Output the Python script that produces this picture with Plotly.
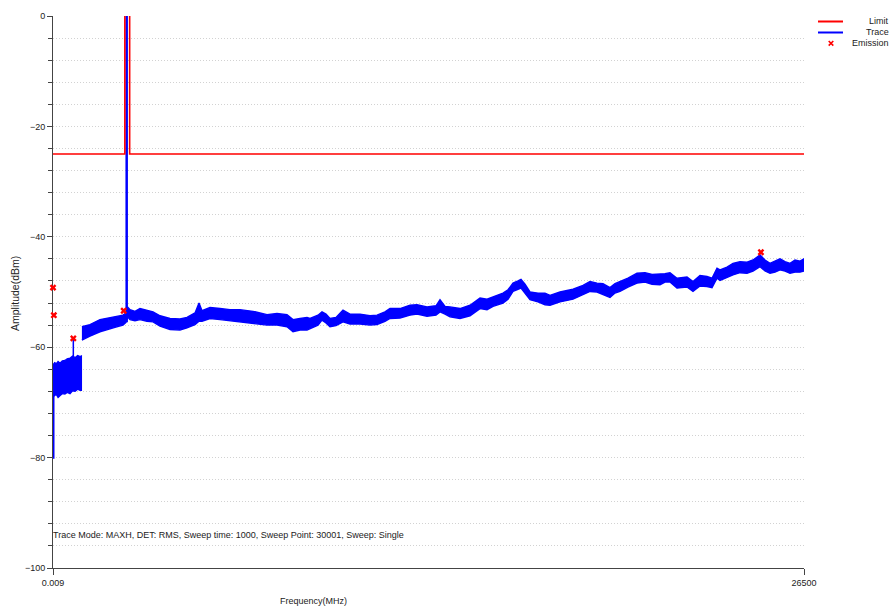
import plotly.graph_objects as go

# ---- Spectrum data (MHz / dBm) ----
# Limit mask with an exclusion window around the carrier
limit_mhz = [0.009, 2535, 2535, 2705, 2705, 26500]
limit_dbm = [-25, -25, 30, 30, -25, -25]

# Max-hold trace envelope, low band (below 1 GHz)
low_mhz = [0.009, 60, 120, 180, 247, 330, 420, 500, 600, 690, 780, 870, 953, 1000]
low_top = [-63.2, -62.8, -63.0, -62.6, -62.9, -62.5, -62.4, -62.1, -62.0, -61.6,
           -61.9, -61.5, -61.7, -61.6]
low_bottom = [-69.0, -68.7, -68.6, -69.1, -68.8, -68.4, -68.5, -68.2, -68.4, -67.9,
              -68.0, -67.6, -67.8, -67.8]

# Max-hold trace envelope, 1 GHz .. stop frequency
high_mhz = [1020, 1305, 1658, 2188, 2470, 2575, 2630, 2717, 2893, 3070,
            3317, 3529, 3776, 4129, 4481, 4728, 5011, 5152, 5258, 5540,
            5893, 6246, 6599, 7057, 7551, 7904, 8257, 8469, 8716, 8963,
            9069, 9351, 9492, 9633, 9774, 9986, 10233, 10480, 10833, 11186,
            11433, 11715, 11892, 12245, 12598, 12845, 13198, 13515, 13656, 13833,
            14009, 14362, 14715, 15068, 15315, 15527, 15879, 16056, 16232, 16408,
            16514, 16656, 16832, 17114, 17361, 17538, 17890, 18349, 18702, 18949,
            19196, 19407, 19654, 19831, 20007, 20289, 20607, 20889, 21136, 21418,
            21595, 21771, 22018, 22371, 22583, 22830, 23077, 23254, 23430, 23536,
            23783, 23995, 24242, 24489, 24701, 24948, 25124, 25301, 25477, 25654,
            25830, 26007, 26183, 26359, 26500]
high_top = [-56.3, -55.9, -55.0, -54.5, -54.2, -53.8, -52.7, -53.2, -53.5, -53.0,
            -53.3, -53.6, -54.3, -54.8, -54.9, -54.6, -53.8, -52.0, -53.4, -52.8,
            -53.0, -53.2, -53.2, -53.5, -54.1, -53.9, -54.1, -55.0, -54.8, -54.6,
            -54.8, -54.2, -53.6, -54.0, -54.8, -54.6, -53.3, -54.0, -54.0, -54.3,
            -54.2, -53.6, -53.0, -53.0, -52.4, -52.3, -52.7, -52.5, -51.4, -52.6,
            -52.7, -53.0, -52.4, -51.1, -51.3, -50.9, -50.2, -49.6, -48.4, -48.0,
            -47.7, -48.6, -50.0, -50.2, -50.2, -50.6, -50.0, -49.5, -48.8, -48.1,
            -48.4, -48.5, -49.2, -48.5, -48.1, -47.5, -46.6, -46.5, -46.8, -46.8,
            -46.7, -46.5, -47.5, -47.3, -48.1, -47.0, -47.2, -47.5, -45.7, -46.0,
            -45.5, -44.8, -44.5, -44.6, -44.2, -43.3, -44.2, -44.8, -44.4, -44.0,
            -44.5, -44.8, -44.2, -44.4, -44.0]
high_bottom = [-58.7, -58.0, -57.2, -56.4, -56.0, -55.5, -54.5, -55.0, -55.2, -55.0,
               -55.3, -55.4, -56.2, -56.8, -56.9, -56.5, -55.9, -55.3, -55.3, -54.8,
               -55.0, -55.2, -55.3, -55.7, -56.0, -56.0, -56.3, -57.2, -56.9, -56.9,
               -56.6, -56.0, -55.1, -55.6, -56.3, -56.1, -55.4, -55.8, -55.8, -56.0,
               -55.9, -55.3, -54.8, -54.7, -54.2, -54.0, -54.4, -54.2, -53.6, -54.0,
               -54.5, -54.8, -54.3, -53.0, -53.2, -52.6, -52.0, -51.3, -49.9, -49.5,
               -49.3, -50.2, -51.4, -51.8, -52.3, -52.4, -51.8, -51.3, -50.5, -49.9,
               -50.0, -50.4, -51.0, -50.2, -49.9, -49.1, -48.4, -48.2, -48.6, -48.7,
               -48.2, -48.2, -49.3, -49.1, -49.9, -48.9, -49.0, -49.2, -47.5, -47.9,
               -47.4, -46.9, -46.5, -46.6, -46.2, -45.4, -46.2, -46.6, -46.4, -46.0,
               -46.2, -46.6, -46.4, -46.4, -46.2]

# Narrow spikes on the trace: frequency, floor level, peak level
spike_mhz = [0.009, 717, 2600]
spike_floor = [-80.2, -61.8, -55.5]
spike_peak = [-63.2, -58.4, 20.0]

# Emission markers
emission_mhz = [0.009, 30, 717, 2495, 24980]
emission_dbm = [-49.2, -54.2, -58.4, -53.4, -42.8]

# Axis ticks
y_ticks = [0, -20, -40, -60, -80, -100]
x_tickvals = [0.009, 26500]
x_ticktext = ["0.009", "26500"]

note_text = ("Trace Mode: MAXH, DET: RMS, Sweep time: 1000, "
             "Sweep Point: 30001, Sweep: Single")

FONT = "Liberation Sans, Arial, sans-serif"
BLUE = "#0000ff"
RED = "#ff0000"
GRID = "#d2d2d2"
W, H = 893, 612
L, R, T, B = 53, 89, 16, 44
PW, PH = W - L - R, H - T - B


def px(x):
    return (x - L) / PW


def py(y):
    return (H - B - y) / PH


fig = go.Figure()

# Trace envelopes drawn as filled bands
for xs, top, bot in [(low_mhz, low_top, low_bottom),
                     (high_mhz, high_top, high_bottom)]:
    fig.add_trace(go.Scatter(
        x=list(xs) + list(xs[::-1]),
        y=list(top) + list(bot[::-1]),
        mode="lines", fill="toself", fillcolor=BLUE,
        line=dict(color=BLUE, width=1.4), showlegend=False, hoverinfo="skip"))

# Spikes
for f, lo, hi, w in zip(spike_mhz, spike_floor, spike_peak, [3, 1.5, 2.5]):
    fig.add_trace(go.Scatter(x=[f, f], y=[lo, hi], mode="lines",
                             line=dict(color=BLUE, width=w),
                             showlegend=False, hoverinfo="skip"))

# Limit line
fig.add_trace(go.Scatter(x=limit_mhz, y=limit_dbm, mode="lines",
                         line=dict(color=RED, width=1.6), showlegend=False))

# Emission markers
fig.add_trace(go.Scatter(x=emission_mhz, y=emission_dbm, mode="markers",
                         marker=dict(symbol="x", size=6, color=RED,
                                     line=dict(width=0)),
                         cliponaxis=False, showlegend=False))

grid = dict(showgrid=True, gridcolor=GRID, griddash="1px,2px", gridwidth=1)

fig.update_layout(
    width=W, height=H, autosize=False,
    margin=dict(l=L, r=R, t=T, b=B),
    paper_bgcolor="white", plot_bgcolor="white",
    font=dict(family=FONT, size=9, color="#222"),
    showlegend=False,
    xaxis=dict(range=[0.009, 26500], tickvals=x_tickvals, ticktext=x_ticktext,
               showline=True, linecolor="#444", linewidth=1,
               ticks="outside", ticklen=6, tickcolor="#444",
               zeroline=False, layer="below traces", **grid),
    yaxis=dict(range=[-100, 0], tickvals=y_ticks,
               showline=True, linecolor="#444", linewidth=1,
               ticks="outside", ticklen=5, tickcolor="#444",
               zeroline=False, layer="below traces",
               minor=dict(dtick=4, ticks="outside", ticklen=4,
                          tickcolor="#444", showgrid=True,
                          gridcolor=GRID, griddash="1px,2px"),
               **grid),
)

# Axis titles and sweep note
fig.add_annotation(x=px(313), y=py(601), xref="paper", yref="paper",
                   text="Frequency(MHz)", showarrow=False,
                   xanchor="center", yanchor="middle")
fig.add_annotation(x=px(15), y=py(294), xref="paper", yref="paper",
                   text="Amplitude(dBm)", textangle=-90, showarrow=False,
                   font=dict(size=10.5),
                   xanchor="center", yanchor="middle")
fig.add_annotation(x=px(51), y=py(535), xref="paper", yref="paper",
                   text=note_text, showarrow=False,
                   xanchor="left", yanchor="middle")

# Legend block (keys on the left, labels right-aligned)
legend_rows = [("Limit", RED, "line", 21.5),
               ("Trace", BLUE, "line", 32.5),
               ("Emission", RED, "x", 43.3)]
for label, color, kind, yy in legend_rows:
    if kind == "line":
        fig.add_shape(type="line", xref="paper", yref="paper",
                      x0=px(818), x1=px(843), y0=py(yy), y1=py(yy),
                      line=dict(color=color, width=2))
    else:
        d = 2.3
        path = (f"M {px(831 - d)},{py(yy - d)} L {px(831 + d)},{py(yy + d)} "
                f"M {px(831 - d)},{py(yy + d)} L {px(831 + d)},{py(yy - d)}")
        fig.add_shape(type="path", xref="paper", yref="paper", path=path,
                      line=dict(color=color, width=1.6))
    fig.add_annotation(x=px(891), y=py(yy), xref="paper", yref="paper",
                       text=label, showarrow=False,
                       xanchor="right", yanchor="middle")

fig.write_html("out.html")
